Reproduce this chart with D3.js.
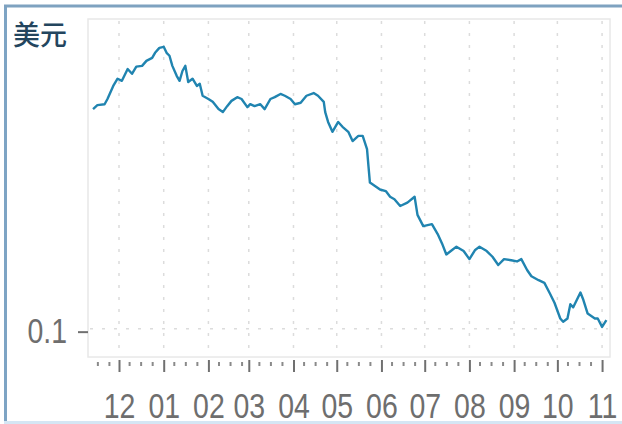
<!DOCTYPE html>
<html><head><meta charset="utf-8">
<script src="https://cdn.jsdelivr.net/npm/d3@7"></script>
<style>html,body{margin:0;padding:0;background:#fff;}svg{display:block;}</style>
</head><body>
<script>
const titleText = "美元";
const dates = ["2021-11-13","2021-11-16","2021-11-21","2021-11-23","2021-11-27","2021-11-30",
"2021-12-03","2021-12-07","2021-12-10","2021-12-13","2021-12-17","2021-12-20","2021-12-24","2021-12-26","2021-12-29",
"2022-01-01","2022-01-03","2022-01-05","2022-01-07","2022-01-10","2022-01-12","2022-01-14","2022-01-16","2022-01-18","2022-01-21","2022-01-24","2022-01-26","2022-01-28",
"2022-02-01","2022-02-04","2022-02-08","2022-02-11","2022-02-14","2022-02-17","2022-02-21","2022-02-24","2022-02-28",
"2022-03-02","2022-03-05","2022-03-09","2022-03-12","2022-03-16","2022-03-19","2022-03-23","2022-03-26","2022-03-30",
"2022-04-02","2022-04-06","2022-04-10","2022-04-15","2022-04-18","2022-04-22","2022-04-23","2022-04-25","2022-04-28",
"2022-05-02","2022-05-05","2022-05-09","2022-05-12","2022-05-16","2022-05-19","2022-05-22","2022-05-23","2022-05-24","2022-05-28","2022-05-31",
"2022-06-04","2022-06-07","2022-06-10","2022-06-14","2022-06-19","2022-06-24","2022-06-26","2022-06-30",
"2022-07-06","2022-07-10","2022-07-13","2022-07-16","2022-07-20","2022-07-23","2022-07-28",
"2022-08-01","2022-08-05","2022-08-08","2022-08-13","2022-08-17","2022-08-21","2022-08-25","2022-08-30",
"2022-09-03","2022-09-06","2022-09-10","2022-09-13","2022-09-18","2022-09-22","2022-09-26","2022-09-29",
"2022-10-03","2022-10-05","2022-10-08","2022-10-10","2022-10-12","2022-10-17","2022-10-19","2022-10-22","2022-10-27","2022-10-29",
"2022-11-01","2022-11-04"];
const prices = [0.352,0.360,0.362,0.373,0.402,0.419,
0.414,0.443,0.431,0.449,0.451,0.464,0.472,0.486,0.500,
0.503,0.486,0.478,0.451,0.426,0.414,0.438,0.451,0.411,0.419,0.402,0.407,0.380,
0.373,0.367,0.352,0.346,0.358,0.369,0.377,0.373,0.356,
0.362,0.358,0.362,0.352,0.373,0.377,0.384,0.380,0.373,
0.362,0.365,0.380,0.386,0.380,0.367,0.346,0.327,0.309,
0.327,0.318,0.309,0.293,0.302,0.302,0.280,0.254,0.231,0.226,0.222,
0.220,0.213,0.210,0.202,0.206,0.213,0.192,0.180,
0.182,0.172,0.163,0.153,0.157,0.160,0.156,
0.149,0.157,0.160,0.156,0.151,0.144,0.149,0.148,
0.147,0.149,0.140,0.135,0.132,0.130,0.122,0.116,
0.106,0.104,0.106,0.115,0.113,0.123,0.118,0.109,0.106,0.106,
0.101,0.105];
const yTickValues = [0.1];
const yTickLabels = ["0.1"];
const monthLabels = ["12","01","02","03","04","05","06","07","08","09","10","11"];

const W = 622, H = 424;
const svg = d3.select("body").append("svg").attr("width", W).attr("height", H);

// frame
svg.append("line").attr("x1",5.5).attr("x2",5.5).attr("y1",5).attr("y2",H).attr("stroke","#7ea4c4").attr("stroke-width",3);
svg.append("line").attr("x1",4).attr("x2",W).attr("y1",6).attr("y2",6).attr("stroke","#7ea2c0").attr("stroke-width",3);
svg.append("line").attr("x1",4).attr("x2",W).attr("y1",422.5).attr("y2",422.5).attr("stroke","#d5e6f4").attr("stroke-width",3);

const pLeft = 88, pRight = 610, pTop = 19, pBottom = 357;
const parse = d3.timeParse("%Y-%m-%d");
const data = dates.map((d,i)=>({date: parse(d), v: prices[i]}));

const x = d3.scaleTime()
  .domain([new Date(2021,10,9,12), new Date(2022,10,6,12)])
  .range([pLeft, pRight]);
const y = d3.scaleLog().domain([0.085, 0.59]).range([pBottom, pTop]);

// panel
svg.append("rect").attr("x",pLeft).attr("y",pTop).attr("width",pRight-pLeft).attr("height",pBottom-pTop)
  .attr("fill","#fff").attr("stroke","#e8e8e8").attr("stroke-width",1.5);

const monthTicks = d3.timeMonth.range(new Date(2021,11,1), new Date(2022,10,2));
const minorTicks = [];
d3.timeMonth.range(new Date(2021,10,1), new Date(2022,10,2)).forEach(m=>{
  [8,16,24].forEach(dd=>{ const t = new Date(m.getFullYear(), m.getMonth(), dd); if (t>=x.domain()[0] && t<=x.domain()[1]) minorTicks.push(t); });
});

// grid
svg.append("g").selectAll("line").data(monthTicks).join("line")
  .attr("x1",d=>x(d)).attr("x2",d=>x(d)).attr("y1",pTop+2).attr("y2",pBottom-2)
  .attr("stroke","#dcdcdc").attr("stroke-width",1.5).attr("stroke-dasharray","3,9");
svg.append("g").selectAll("line").data(yTickValues).join("line")
  .attr("x1",pLeft+2).attr("x2",pRight-2).attr("y1",d=>y(d)).attr("y2",d=>y(d))
  .attr("stroke","#dcdcdc").attr("stroke-width",1.5).attr("stroke-dasharray","3,9");

// line
svg.append("path").datum(data)
  .attr("fill","none").attr("stroke","#2084b0").attr("stroke-width",2.4).attr("stroke-linejoin","round")
  .attr("d", d3.line().x(d=>x(d.date)).y(d=>y(d.v)));

// x axis minor
const gMinor = svg.append("g").attr("transform",`translate(0,${362})`)
  .call(d3.axisBottom(x).tickValues(minorTicks).tickSize(4).tickFormat(""));
gMinor.select(".domain").remove();
gMinor.selectAll(".tick line").attr("stroke","#8a8a8a").attr("stroke-width",2);

// x axis major
const gx = svg.append("g").attr("transform",`translate(0,${360})`)
  .call(d3.axisBottom(x).tickValues(monthTicks).tickSize(12).tickPadding(20)
     .tickFormat((d,i)=>monthLabels[i]));
gx.select(".domain").remove();
gx.selectAll(".tick line").attr("stroke","#707070").attr("stroke-width",2);
gx.selectAll(".tick text").attr("font-family","'Liberation Sans', Arial, sans-serif")
  .attr("font-size",36).attr("fill","#6e6e6e").attr("transform","scale(0.79,1)");

// y axis
const gy = svg.append("g").attr("transform",`translate(${pLeft},0)`)
  .call(d3.axisLeft(y).tickValues(yTickValues).tickSize(10).tickPadding(11)
     .tickFormat((d,i)=>yTickLabels[i]));
gy.select(".domain").remove();
gy.selectAll(".tick line").attr("stroke","#707070").attr("stroke-width",2).attr("transform","translate(0,3)");
gy.selectAll(".tick text").attr("font-family","'Liberation Sans', Arial, sans-serif")
  .attr("font-size",36).attr("fill","#6e6e6e").attr("x",0).attr("dy","0.38em")
  .attr("transform","translate(-21,0) scale(0.79,1)");

// title
svg.append("text").attr("x",13).attr("y",45).text(titleText)
  .attr("font-family","'Noto Sans CJK SC', sans-serif").attr("font-size",27).attr("font-weight",500)
  .attr("fill","#23455e");
</script>
</body></html>
